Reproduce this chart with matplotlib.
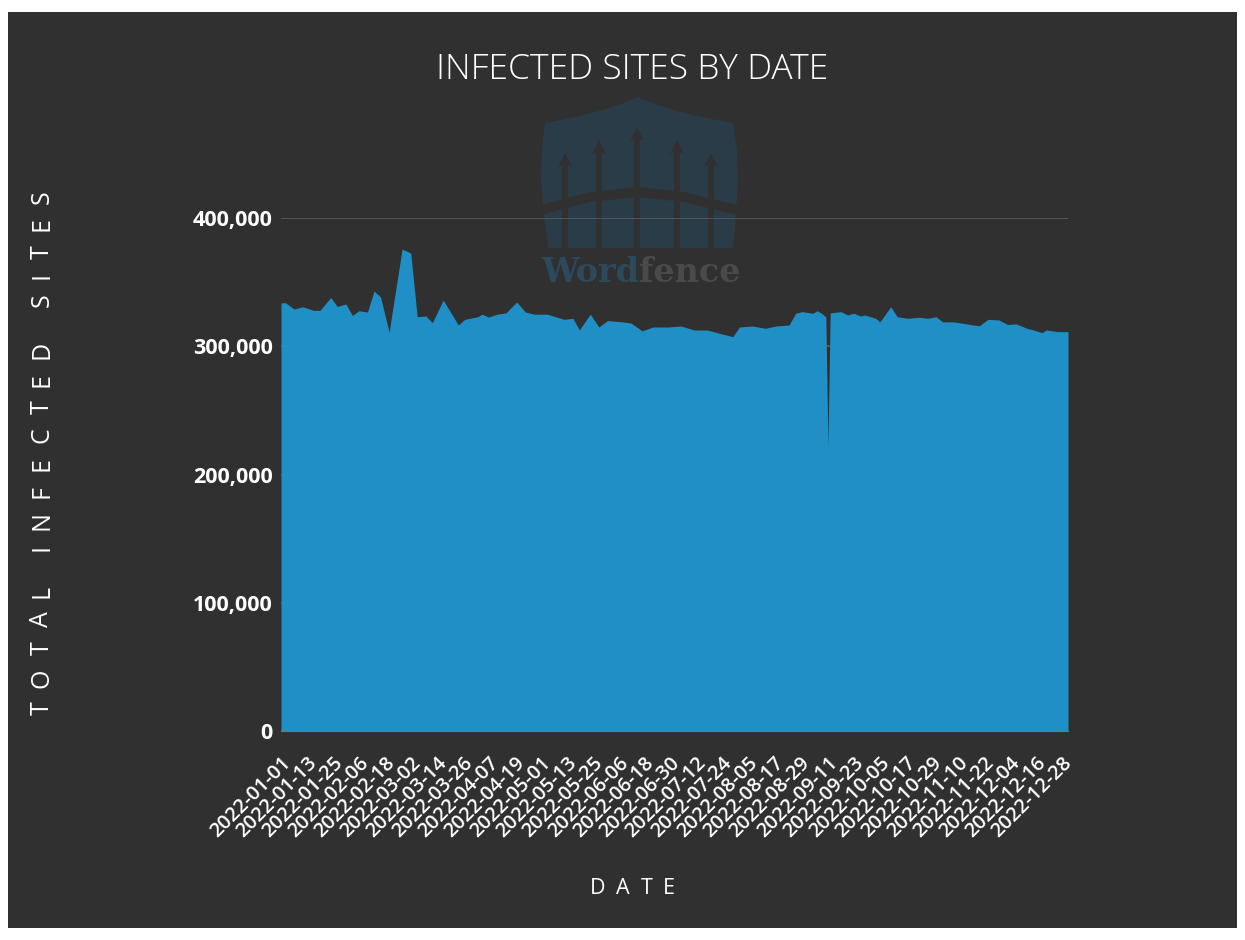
import matplotlib
matplotlib.use("Agg")
import matplotlib.pyplot as plt
from matplotlib.patches import Rectangle, Polygon
from matplotlib.ticker import FuncFormatter
from matplotlib.font_manager import FontProperties
import pandas as pd

plt.rcParams['font.family'] = ['Open Sans', 'DejaVu Sans']

# data (daily samples at visible turning points)
dates = ["2022-01-01", "2022-01-03", "2022-01-07", "2022-01-11", "2022-01-16", "2022-01-19",
         "2022-01-24", "2022-01-27", "2022-01-31", "2022-02-03", "2022-02-06", "2022-02-10",
         "2022-02-13", "2022-02-16", "2022-02-20", "2022-02-26", "2022-03-02", "2022-03-05",
         "2022-03-09", "2022-03-12", "2022-03-17", "2022-03-24", "2022-03-27", "2022-04-02",
         "2022-04-04", "2022-04-07", "2022-04-11", "2022-04-15", "2022-04-20", "2022-04-24",
         "2022-04-28", "2022-05-04", "2022-05-09", "2022-05-12", "2022-05-16", "2022-05-19",
         "2022-05-24", "2022-05-28", "2022-06-01", "2022-06-08", "2022-06-12", "2022-06-17",
         "2022-06-22", "2022-06-29", "2022-07-05", "2022-07-11", "2022-07-17", "2022-07-23",
         "2022-07-29", "2022-08-01", "2022-08-07", "2022-08-13", "2022-08-18", "2022-08-24",
         "2022-08-27", "2022-08-30", "2022-09-04", "2022-09-06", "2022-09-08", "2022-09-10",
         "2022-09-11", "2022-09-12", "2022-09-17", "2022-09-20", "2022-09-23", "2022-09-26",
         "2022-09-28", "2022-10-03", "2022-10-05", "2022-10-10", "2022-10-13", "2022-10-18",
         "2022-10-23", "2022-10-27", "2022-10-31", "2022-11-03", "2022-11-08", "2022-11-12",
         "2022-11-17", "2022-11-20", "2022-11-24", "2022-11-29", "2022-12-03", "2022-12-07",
         "2022-12-12", "2022-12-15", "2022-12-19", "2022-12-21", "2022-12-26", "2022-12-31"]
infected = [333700, 334000, 329000, 330800, 328000, 328000,
            338000, 331000, 333000, 324000, 327700, 326700,
            343000, 338600, 311000, 375800, 372700, 323000,
            323600, 318400, 336000, 316600, 321000, 323000,
            325000, 322800, 325000, 326000, 334500, 326700,
            325000, 325000, 322500, 321000, 321800, 312700,
            325000, 315000, 320000, 319000, 318000, 312000,
            315000, 315000, 315800, 312700, 312700, 310000,
            307500, 315000, 315800, 314000, 315800, 316600,
            325700, 327000, 325700, 327700, 325700, 322800,
            221400, 326000, 327000, 324400, 325700, 323600,
            324400, 321800, 319000, 330800, 323000, 321800,
            322600, 321800, 323000, 319000, 319000, 318000,
            316600, 316000, 321000, 320500, 317000, 317400,
            314000, 312700, 310600, 312700, 311400, 311400]
tick_labels = ["2022-01-01", "2022-01-13", "2022-01-25", "2022-02-06", "2022-02-18",
               "2022-03-02", "2022-03-14", "2022-03-26", "2022-04-07", "2022-04-19",
               "2022-05-01", "2022-05-13", "2022-05-25", "2022-06-06", "2022-06-18",
               "2022-06-30", "2022-07-12", "2022-07-24", "2022-08-05", "2022-08-17",
               "2022-08-29", "2022-09-11", "2022-09-23", "2022-10-05", "2022-10-17",
               "2022-10-29", "2022-11-10", "2022-11-22", "2022-12-04", "2022-12-16",
               "2022-12-28"]
y_ticks = [0, 100000, 200000, 300000, 400000]

x = pd.to_datetime(dates)
tick_x = pd.to_datetime(tick_labels)

bg = "#303030"
fig = plt.figure(figsize=(12.45, 9.4), dpi=100, facecolor="white")
fig.patches.append(Rectangle((8 / 1245, 12 / 940), 1229 / 1245, 916 / 940,
                             transform=fig.transFigure, facecolor=bg, edgecolor="none", zorder=0))


def px(xp, yp):
    return (xp / 1245, 1 - yp / 940)


# Wordfence watermark
shield = [px(545, 123), px(575, 117), px(603, 110), px(624, 103), px(638, 97),
          px(652, 103), px(673, 110), px(701, 117), px(733, 123),
          px(737, 150), px(738, 180), px(736, 215), px(733, 248),
          px(548, 248), px(544, 215), px(541, 180), px(542, 150)]
fig.patches.append(Polygon(shield, closed=True, transform=fig.transFigure,
                           facecolor="#2a3c48", edgecolor="none", zorder=1))
rail = [px(541, 205), px(590, 192), px(637, 187), px(684, 192), px(738, 205),
        px(738, 215), px(684, 202), px(637, 197), px(590, 202), px(541, 215)]
fig.patches.append(Polygon(rail, closed=True, transform=fig.transFigure,
                           facecolor=bg, edgecolor="none", zorder=1.1))
for xp, tip in [(565, 153), (599, 140), (637, 127), (677, 140), (711, 153)]:
    post = [px(xp - 3, 250), px(xp - 3, tip + 12), px(xp - 7, tip + 14), px(xp, tip),
            px(xp + 7, tip + 14), px(xp + 3, tip + 12), px(xp + 3, 250)]
    fig.patches.append(Polygon(post, closed=True, transform=fig.transFigure,
                               facecolor=bg, edgecolor="none", zorder=1.1))
fig.text(639 / 1245, 1 - 273 / 940, "Word", ha="right", va="center", fontsize=24,
         fontweight="bold", family="DejaVu Serif", color="#2c4a5c", zorder=1.2)
fig.text(639 / 1245, 1 - 273 / 940, "fence", ha="left", va="center", fontsize=24,
         fontweight="bold", family="DejaVu Serif", color="#4a4a4a", zorder=1.2)

ax = fig.add_axes([281 / 1245, 1 - 731 / 940, (1068 - 281) / 1245, (731 - 218) / 940])
ax.set_facecolor("none")
ax.set_zorder(2)
ax.fill_between(x, infected, 0, color="#208fc6", linewidth=0, zorder=2)
ax.set_xlim(x[0], x[-1])
ax.set_ylim(0, 400000)

ax.set_yticks(y_ticks)
ax.yaxis.set_major_formatter(FuncFormatter(lambda v, p: f"{int(v):,}"))
ax.set_xticks(tick_x)
ax.set_xticklabels(tick_labels)
ax.grid(axis="y", color="#5c5c5c", linewidth=1.2, zorder=0)
ax.set_axisbelow(True)
for s in ["top", "right", "left"]:
    ax.spines[s].set_visible(False)
ax.spines["bottom"].set_color("#777777")
ax.tick_params(axis="both", length=0, colors="white")
ax.tick_params(axis="y", pad=6, labelsize=15.5)
for lbl in ax.get_yticklabels():
    lbl.set_fontweight("bold")
ax.tick_params(axis="x", pad=16, labelsize=14.5)
for lbl in ax.get_xticklabels():
    lbl.set_rotation(45)
    lbl.set_ha("right")
    lbl.set_rotation_mode("anchor")
    lbl.set_fontweight("semibold")

fig.text(632 / 1245, 1 - 70 / 940, "INFECTED SITES BY DATE", ha="center", va="center",
         fontsize=25.5, color="white", fontweight="light")

renderer = fig.canvas.get_renderer()


def spaced(text, start, end, fixed, vertical, size):
    # letter-spaced label: glyph advances plus an even extra gap, fitted start..end (px)
    fp = FontProperties(family=['Open Sans', 'DejaVu Sans'], size=size, weight="normal")
    widths = [renderer.get_text_width_height_descent(ch if ch != " " else "n", fp, ismath=False)[0]
              * (0.45 if ch == " " else 1.0) for ch in text]
    gap = (end - start - sum(widths)) / (len(text) - 1)
    pos = start
    for ch, w in zip(text, widths):
        c = pos + w / 2
        if ch != " ":
            if vertical:
                fig.text(fixed / 1245, 1 - c / 940, ch, rotation=90, ha="center",
                         va="center", fontproperties=fp, color="white")
            else:
                fig.text(c / 1245, 1 - fixed / 940, ch, ha="center", va="center",
                         fontproperties=fp, color="white")
        pos += w + gap


# vertical label reads bottom to top, so lay the letters out from the top reversed
spaced("TOTAL INFECTED SITES"[::-1], 190, 715, 42, True, 18)
spaced("DATE", 590, 675, 888, False, 15.5)

fig.savefig("out.png", dpi=100, facecolor=fig.get_facecolor())
